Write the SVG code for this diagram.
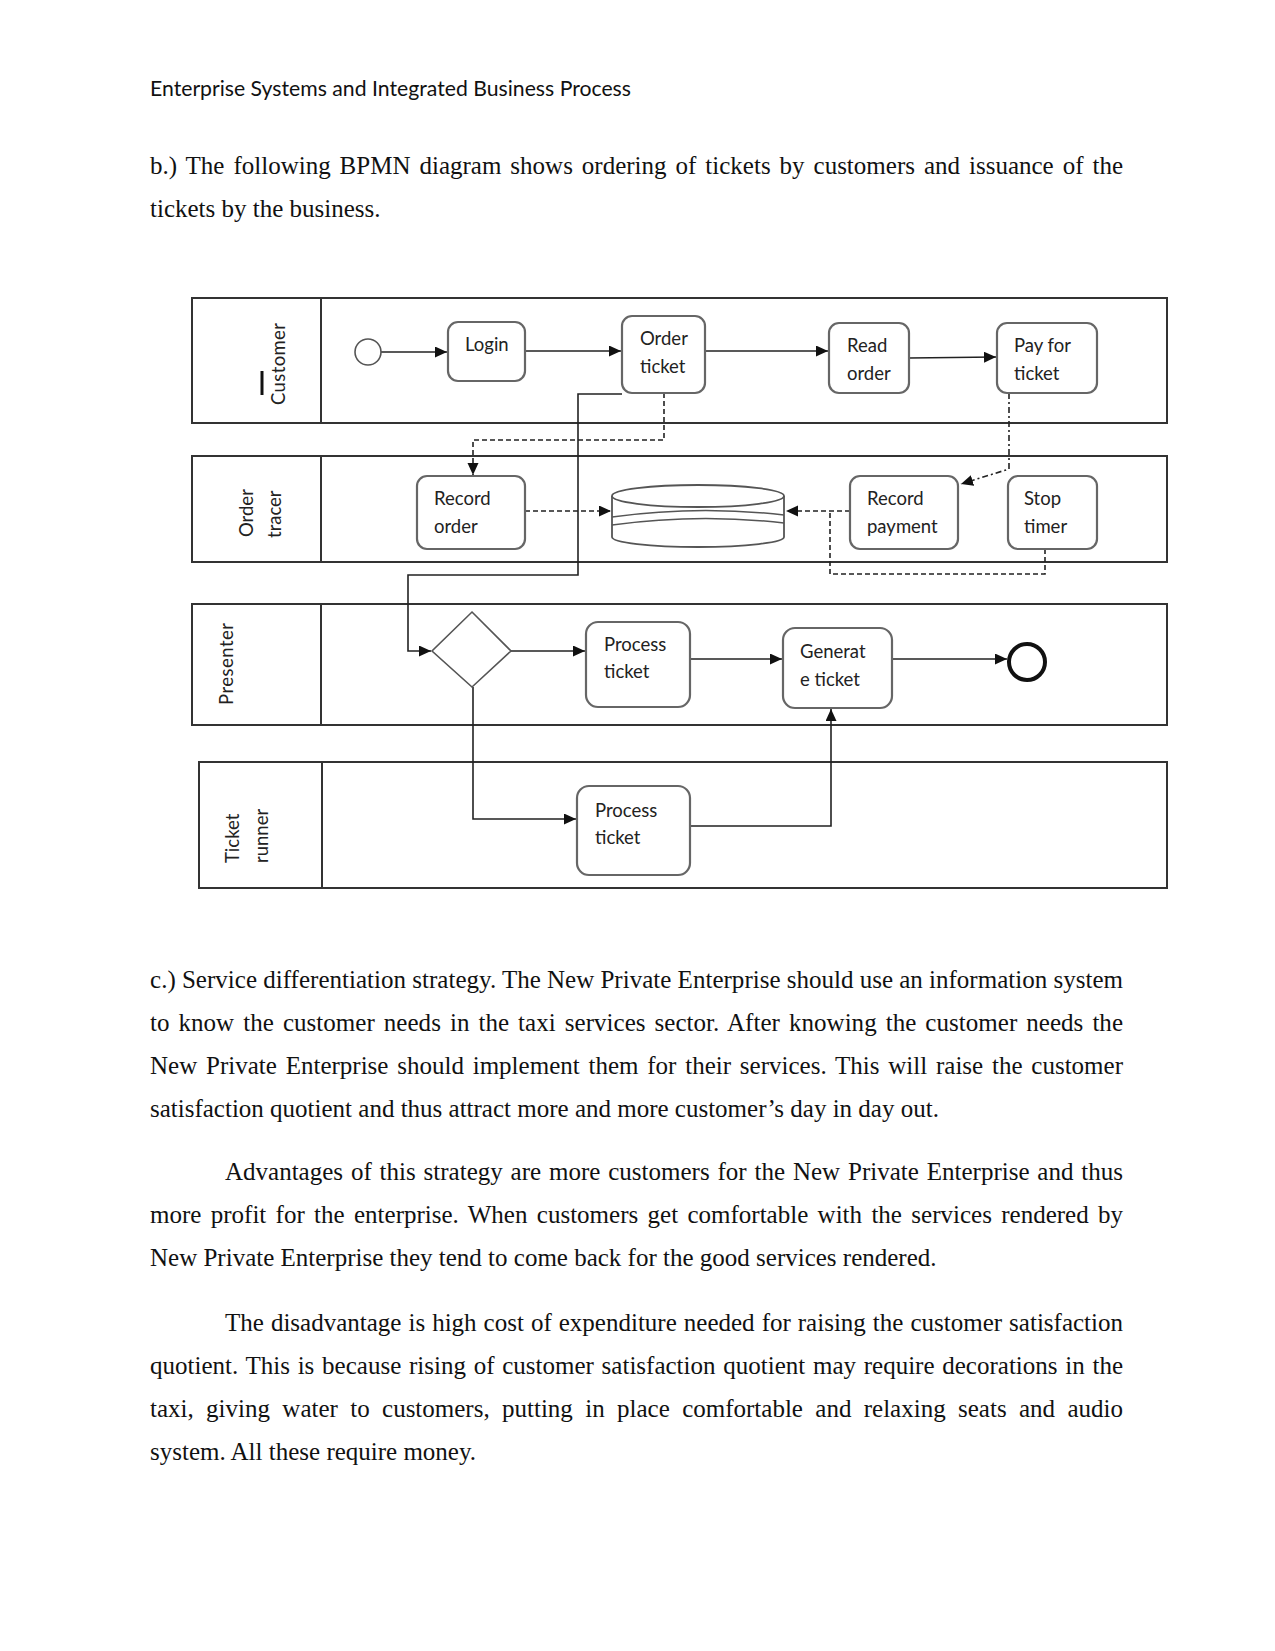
<svg xmlns="http://www.w3.org/2000/svg" width="1275" height="1651" viewBox="0 0 1275 1651">
<defs>
<style>
.body{font-family:"Liberation Serif","Times New Roman",serif;font-size:25px;fill:#111}
.hdr{font-family:Lato,"Liberation Sans",sans-serif;font-size:20.5px;fill:#111}
.lbl{font-family:Lato,"Open Sans",sans-serif;font-size:18.5px;fill:#222}
.lane{fill:none;stroke:#333;stroke-width:2}
.task{fill:#fff;stroke:#666;stroke-width:2.2}
.flow{fill:none;stroke:#222;stroke-width:1.6}
.dash{fill:none;stroke:#222;stroke-width:1.6;stroke-dasharray:5 3}
.dashdot{fill:none;stroke:#222;stroke-width:1.6;stroke-dasharray:6 3 2 3}
</style>
<marker id="arr" markerUnits="userSpaceOnUse" markerWidth="13" markerHeight="12" refX="12" refY="5.5" orient="auto">
<path d="M0,0 L12,5.5 L0,11 z" fill="#111"/>
</marker>
</defs>
<rect width="1275" height="1651" fill="#fff"/>

<text class="hdr" x="150" y="96" textLength="481" lengthAdjust="spacingAndGlyphs">Enterprise Systems and Integrated Business Process</text>

<g id="para-b">
<text class="body" x="150" y="174" word-spacing="2.69" textLength="973" lengthAdjust="spacing">b.) The following BPMN diagram shows ordering of tickets by customers and issuance of the</text>
<text class="body" x="150" y="217">tickets by the business.</text>
</g>

<g id="lanes">
<g id="lane-customer"><rect class="lane" x="192" y="298" width="975" height="125"/><line class="lane" x1="321" y1="298" x2="321" y2="423"/>
<text class="lbl" transform="translate(285,405) rotate(-90)" textLength="82">Customer</text>
<line x1="262" y1="371" x2="262" y2="395" stroke="#111" stroke-width="3"/></g>
<g id="lane-ordertracer"><rect class="lane" x="192" y="456" width="975" height="106"/><line class="lane" x1="321" y1="456" x2="321" y2="562"/>
<text class="lbl" transform="translate(253,537) rotate(-90)">Order</text>
<text class="lbl" transform="translate(281,538) rotate(-90)">tracer</text></g>
<g id="lane-presenter"><rect class="lane" x="192" y="604" width="975" height="121"/><line class="lane" x1="321" y1="604" x2="321" y2="725"/>
<text class="lbl" transform="translate(233,705) rotate(-90)" textLength="82">Presenter</text></g>
<g id="lane-ticketrunner"><rect class="lane" x="199" y="762" width="968" height="126"/><line class="lane" x1="322" y1="762" x2="322" y2="888"/>
<text class="lbl" transform="translate(239,863) rotate(-90)">Ticket</text>
<text class="lbl" transform="translate(268,863) rotate(-90)">runner</text></g>
</g>

<g id="connectors">
<path class="flow" d="M381,352 H447" marker-end="url(#arr)"/>
<path class="flow" d="M525,351 H621" marker-end="url(#arr)"/>
<path class="flow" d="M705,351 H828" marker-end="url(#arr)"/>
<path class="flow" d="M909,358 L996,357" marker-end="url(#arr)"/>
<path class="dash" d="M664,393 V440 H473 V475" marker-end="url(#arr)"/>
<path class="flow" d="M622,394 H578 V575 H408 V651 H431" marker-end="url(#arr)"/>
<path class="dashdot" d="M1009,393 V469 L961,484" marker-end="url(#arr)"/>
<path class="dash" d="M525,511 H611" marker-end="url(#arr)"/>
<path class="dash" d="M850,511 H786" marker-end="url(#arr)"/>
<path class="dash" d="M1045,549 V574 H830 V511"/>
<path class="flow" d="M511,651 H585" marker-end="url(#arr)"/>
<path class="flow" d="M473,687 V819 H576" marker-end="url(#arr)"/>
<path class="flow" d="M690,659 H782" marker-end="url(#arr)"/>
<path class="flow" d="M892,659 H1007" marker-end="url(#arr)"/>
<path class="flow" d="M690,826 H831 V709" marker-end="url(#arr)"/>
</g>

<g id="start"><circle cx="368" cy="352" r="13" fill="#fff" stroke="#555" stroke-width="1.6"/></g>
<g id="login"><rect class="task" x="448" y="322" width="77" height="59" rx="10"/><text class="lbl" x="465" y="351">Login</text></g>
<g id="order-ticket"><rect class="task" x="622" y="316" width="83" height="77" rx="10"/><text class="lbl" x="640" y="345">Order</text><text class="lbl" x="640" y="373">ticket</text></g>
<g id="read-order"><rect class="task" x="829" y="323" width="80" height="70" rx="10"/><text class="lbl" x="847" y="352">Read</text><text class="lbl" x="847" y="380">order</text></g>
<g id="pay-ticket"><rect class="task" x="997" y="323" width="100" height="70" rx="10"/><text class="lbl" x="1014" y="352">Pay for</text><text class="lbl" x="1014" y="380">ticket</text></g>

<g id="record-order"><rect class="task" x="417" y="476" width="108" height="73" rx="10"/><text class="lbl" x="434" y="505">Record</text><text class="lbl" x="434" y="533">order</text></g>
<g id="database">
<path d="M612,496 V537 A86,10 0 0 0 784,537 V496" fill="#fff" stroke="#555" stroke-width="1.8"/>
<ellipse cx="698" cy="496" rx="86" ry="11" fill="#fff" stroke="#555" stroke-width="1.8"/>
<path d="M612,517 Q698,505 784,515" fill="none" stroke="#555" stroke-width="1.6"/>
<path d="M612,525 Q698,513 784,523" fill="none" stroke="#555" stroke-width="1.6"/>
</g>
<g id="record-payment"><rect class="task" x="850" y="476" width="108" height="73" rx="10"/><text class="lbl" x="867" y="505">Record</text><text class="lbl" x="867" y="533">payment</text></g>
<g id="stop-timer"><rect class="task" x="1008" y="476" width="89" height="73" rx="10"/><text class="lbl" x="1024" y="505">Stop</text><text class="lbl" x="1024" y="533">timer</text></g>

<g id="gateway"><path d="M472,612 L511,651 L472,687 L432,651 z" fill="#fff" stroke="#555" stroke-width="1.6"/></g>
<g id="process-ticket-presenter"><rect class="task" x="586" y="622" width="104" height="85" rx="12"/><text class="lbl" x="604" y="651">Process</text><text class="lbl" x="604" y="678">ticket</text></g>
<g id="generate-ticket"><rect class="task" x="783" y="628" width="109" height="80" rx="12"/><text class="lbl" x="800" y="658">Generat</text><text class="lbl" x="800" y="686">e ticket</text></g>
<g id="end"><circle cx="1027" cy="662" r="18" fill="#fff" stroke="#111" stroke-width="4"/></g>
<g id="process-ticket-runner"><rect class="task" x="577" y="786" width="113" height="89" rx="12"/><text class="lbl" x="595" y="817">Process</text><text class="lbl" x="595" y="844">ticket</text></g>

<g id="para-c">
<text class="body" x="150" y="988" word-spacing="-0.15" textLength="973" lengthAdjust="spacing">c.) Service differentiation strategy. The New Private Enterprise should use an information system</text>
<text class="body" x="150" y="1031" word-spacing="2.75" textLength="973" lengthAdjust="spacing">to know the customer needs in the taxi services sector. After knowing the customer needs the</text>
<text class="body" x="150" y="1074" word-spacing="2.52" textLength="973" lengthAdjust="spacing">New Private Enterprise should implement them for their services. This will raise the customer</text>
<text class="body" x="150" y="1117">satisfaction quotient and thus attract more and more customer’s day in day out.</text>
</g>
<g id="para-adv">
<text class="body" x="225" y="1180" word-spacing="1.62" textLength="898" lengthAdjust="spacing">Advantages of this strategy are more customers for the New Private Enterprise and thus</text>
<text class="body" x="150" y="1223" word-spacing="3.07" textLength="973" lengthAdjust="spacing">more profit for the enterprise. When customers get comfortable with the services rendered by</text>
<text class="body" x="150" y="1266">New Private Enterprise they tend to come back for the good services rendered.</text>
</g>
<g id="para-dis">
<text class="body" x="225" y="1331" word-spacing="0.77" textLength="898" lengthAdjust="spacing">The disadvantage is high cost of expenditure needed for raising the customer satisfaction</text>
<text class="body" x="150" y="1374" word-spacing="1.46" textLength="973" lengthAdjust="spacing">quotient. This is because rising of customer satisfaction quotient may require decorations in the</text>
<text class="body" x="150" y="1417" word-spacing="6.1" textLength="973" lengthAdjust="spacing">taxi, giving water to customers, putting in place comfortable and relaxing seats and audio</text>
<text class="body" x="150" y="1460">system. All these require money.</text>
</g>
</svg>
